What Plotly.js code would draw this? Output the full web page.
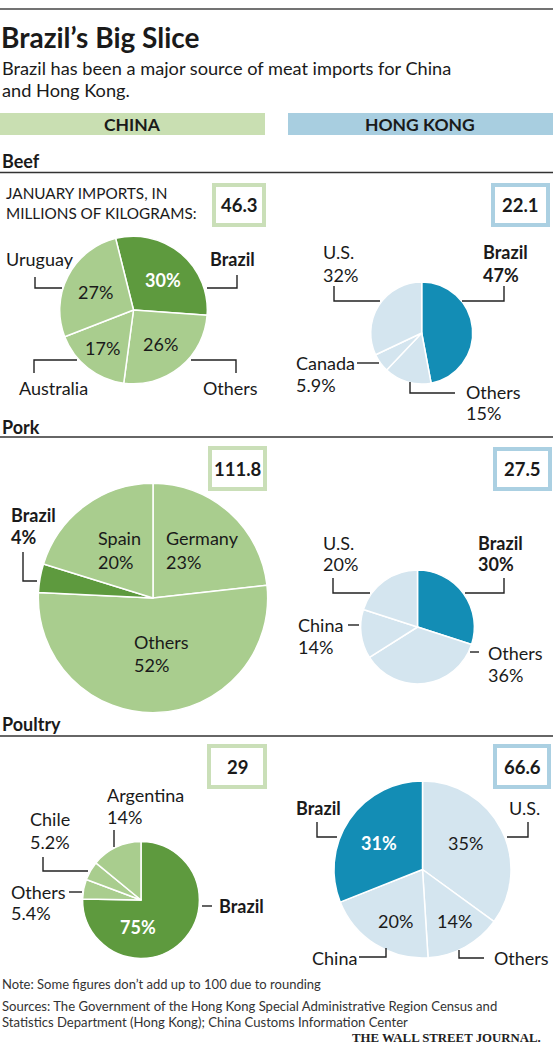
<!DOCTYPE html>
<html><head><meta charset="utf-8">
<script src="https://cdn.plot.ly/plotly-3.0.1.min.js"></script>
<style>html,body{margin:0;padding:0;background:#fff}#chart{width:553px;height:1048px}</style>
</head><body><div id="chart"></div>
<script>
// ---------- DATA ----------
const beefChinaLabels = ['Brazil','Others','Australia','Uruguay'];
const beefChinaValues = [30,26,17,27];
const beefHKLabels = ['Brazil','Others','Canada','U.S.'];
const beefHKValues = [47,15,5.9,32];
const porkChinaLabels = ['Germany','Others','Brazil','Spain'];
const porkChinaValues = [23,52,4,20];
const porkHKLabels = ['Brazil','Others','China','U.S.'];
const porkHKValues = [30,36,14,20];
const poultryChinaLabels = ['Brazil','Others','Chile','Argentina'];
const poultryChinaValues = [75,5.4,5.2,14];
const poultryHKLabels = ['U.S.','Others','China','Brazil'];
const poultryHKValues = [35,14,20,31];
const totals = [46.3, 22.1, 111.8, 27.5, 29, 66.6]; // beefCN, beefHK, porkCN, porkHK, poultryCN, poultryHK
const sectionNames = ['Beef','Pork','Poultry'];
const regionNames = ['CHINA','HONG KONG'];

// ---------- STYLE ----------
const W = 553, H = 1048;
const FONT = 'Lato, "Open Sans", sans-serif';
const TXT = '#1a1a1a';
const GREEN_LIGHT = '#a9cd8e', GREEN_DARK = '#5e9a3e';
const BLUE_LIGHT = '#d4e5ef', BLUE_DARK = '#138db5';
const GREEN_BAR = '#c9dfb2', BLUE_BAR = '#a8cee0';
const GREEN_BOX = '#cadfb8', BLUE_BOX = '#abd0e2';
const LS = 18; // label font size
const R0 = 73.8; // radius for the beef-China pie; others scale by sqrt(total)

const px = x => x / W;
const py = y => 1 - y / H;

const annotations = [];
const shapes = [];
function txt(text, x, y, o = {}) {
  annotations.push({
    text, x: px(x), y: py(y), xref: 'paper', yref: 'paper', showarrow: false,
    xanchor: o.anchor || 'left', yanchor: 'middle',
    font: {family: o.family || FONT, size: o.size || LS, color: o.color || TXT}
  });
}
function path(d, o = {}) {
  const s = d.map((p, i) => (i ? 'L' : 'M') + px(p[0]).toFixed(5) + ',' + py(p[1]).toFixed(5)).join(' ');
  shapes.push({type: 'path', xref: 'paper', yref: 'paper', path: s,
    line: {color: o.color || '#222', width: o.width || 1.4}});
}
function rect(x0, y0, x1, y1, o) {
  shapes.push({type: 'rect', xref: 'paper', yref: 'paper', x0: px(x0), x1: px(x1), y0: py(y1), y1: py(y0),
    fillcolor: o.fill || 'rgba(0,0,0,0)', line: {color: o.line || 'rgba(0,0,0,0)', width: o.lw || 0}});
}
const pct = v => v + '%';

// ---------- PIES ----------
const pies = [
  {labels: beefChinaLabels, values: beefChinaValues, total: totals[0], cx: 133.5, cy: 310, rot: -14, china: true},
  {labels: beefHKLabels, values: beefHKValues, total: totals[1], cx: 421.7, cy: 333, rot: 0, china: false},
  {labels: porkChinaLabels, values: porkChinaValues, total: totals[2], cx: 153, cy: 598, rot: 0, china: true},
  {labels: porkHKLabels, values: porkHKValues, total: totals[3], cx: 417.5, cy: 627, rot: 0, china: false},
  {labels: poultryChinaLabels, values: poultryChinaValues, total: totals[4], cx: 141, cy: 900, rot: 0, china: true},
  {labels: poultryHKLabels, values: poultryHKValues, total: totals[5], cx: 422.5, cy: 869.5, rot: 0, china: false}
];
const traces = pies.map(p => {
  const r = R0 * Math.sqrt(p.total / totals[0]);
  const colors = p.labels.map(l => l === 'Brazil'
    ? (p.china ? GREEN_DARK : BLUE_DARK) : (p.china ? GREEN_LIGHT : BLUE_LIGHT));
  return {
    type: 'pie', labels: p.labels, values: p.values, sort: false, direction: 'clockwise',
    rotation: p.rot, textinfo: 'none', hoverinfo: 'skip', showlegend: false,
    marker: {colors, line: {color: '#ffffff', width: 1.5}},
    domain: {x: [px(p.cx - r), px(p.cx + r)], y: [py(p.cy + r), py(p.cy - r)]}
  };
});

// ---------- HEADER ----------
path([[0, 9], [W, 9]], {color: '#444', width: 1.5});
txt('<b>Brazil’s Big Slice</b>', -1, 37, {size: 28});
txt('Brazil has been a major source of meat imports for China', 0, 68, {size: 18.2});
txt('and Hong Kong.', 0, 90, {size: 18.2});
rect(0, 113, 265, 135, {fill: GREEN_BAR});
rect(288, 113, W, 135, {fill: BLUE_BAR});
txt('<b>' + regionNames[0] + '</b>', 132, 124, {anchor: 'center', size: 17.5});
txt('<b>' + regionNames[1] + '</b>', 420, 124, {anchor: 'center', size: 17.5});

// section headers + rules
const secY = [[161, 172.5], [427, 437], [724, 736]];
sectionNames.forEach((s, i) => {
  txt('<b>' + s + '</b>', 0, secY[i][0], {size: 18});
  path([[0, secY[i][1]], [W, secY[i][1]]], {color: '#333', width: 1.5});
});

// total boxes
const boxes = [[212,183,266,227],[491,183,550,227],[208,446,267,491],[493,447,552,491],[207,744,267,789],[493,744,551,789]];
boxes.forEach((b, i) => {
  rect(b[0] + 2, b[1] + 2, b[2] - 2, b[3] - 2, {line: pies[i].china ? GREEN_BOX : BLUE_BOX, lw: 4});
  txt('<b>' + totals[i] + '</b>', (b[0] + b[2]) / 2, (b[1] + b[3]) / 2, {anchor: 'center', size: 18.5});
});
txt('JANUARY IMPORTS, IN', 4, 193, {size: 15.3});
txt('MILLIONS OF KILOGRAMS:', 4, 213, {size: 15.3});

// ---------- LABELS ----------
const WHITE = '#ffffff';
const B = s => '<b>' + s + '</b>';
// Beef China
txt(beefChinaLabels[3], 4, 259);
txt(B(beefChinaLabels[0]), 208, 259);
txt(B(pct(beefChinaValues[0])), 163, 280, {anchor: 'center', color: WHITE});
txt(pct(beefChinaValues[3]), 95, 292, {anchor: 'center'});
txt(pct(beefChinaValues[2]), 102, 348, {anchor: 'center'});
txt(pct(beefChinaValues[1]), 160, 344, {anchor: 'center'});
txt(beefChinaLabels[2], 17, 388);
txt(beefChinaLabels[1], 201, 388);
path([[35,277],[35,288],[62,288]]);
path([[237,275],[237,288],[207,288]]);
path([[77,360],[34,360],[34,373]]);
path([[191,360],[236,360],[236,373]]);
// Beef HK
txt(beefHKLabels[3], 321, 252); txt(pct(beefHKValues[3]), 321, 275);
txt(B(beefHKLabels[0]), 481, 252); txt(B(pct(beefHKValues[0])), 481, 275);
txt(beefHKLabels[2], 294, 363); txt(pct(beefHKValues[2]), 294, 385);
txt(beefHKLabels[1], 464, 392); txt(pct(beefHKValues[1]), 464, 413);
path([[334,286],[334,301],[380,301]]);
path([[504,286],[504,301],[462,301]]);
path([[357,363],[379,363]]);
path([[410,382],[410,393],[455,393]]);
// Pork China
txt(B(porkChinaLabels[2]), 9, 515); txt(B(pct(porkChinaValues[2])), 9, 537);
txt(porkChinaLabels[3], 96, 538); txt(pct(porkChinaValues[3]), 96, 562);
txt(porkChinaLabels[0], 164, 538); txt(pct(porkChinaValues[0]), 164, 562);
txt(porkChinaLabels[1], 132, 642); txt(pct(porkChinaValues[1]), 132, 665);
path([[23,552],[23,581],[37,581]]);
// Pork HK
txt(porkHKLabels[3], 321, 543); txt(pct(porkHKValues[3]), 321, 564);
txt(B(porkHKLabels[0]), 476, 543); txt(B(pct(porkHKValues[0])), 476, 564);
txt(porkHKLabels[2], 296, 625); txt(pct(porkHKValues[2]), 296, 647);
txt(porkHKLabels[1], 486, 653); txt(pct(porkHKValues[1]), 486, 675);
path([[333,578],[333,593],[370,593]]);
path([[504,578],[504,593],[465,593]]);
path([[348,625],[359,625]]);
path([[470,652],[479,652]]);
// Poultry China
txt(poultryChinaLabels[3], 105, 795); txt(pct(poultryChinaValues[3]), 105, 817);
txt(poultryChinaLabels[2], 28, 819); txt(pct(poultryChinaValues[2]), 28, 842);
txt(poultryChinaLabels[1], 9, 892); txt(pct(poultryChinaValues[1]), 9, 913);
txt(B(poultryChinaLabels[0]), 217, 906);
txt(B(pct(poultryChinaValues[0])), 138, 927, {anchor: 'center', color: WHITE});
path([[114,830],[114,847]]);
path([[43,857],[43,871],[88,871]]);
path([[69,892],[82,892]]);
path([[202,906],[212,906]]);
// Poultry HK
txt(B(poultryHKLabels[3]), 294, 808);
txt(poultryHKLabels[0], 542, 808, {anchor: 'right'});
txt(B(pct(poultryHKValues[3])), 379, 843, {anchor: 'center', color: WHITE});
txt(pct(poultryHKValues[0]), 465, 843, {anchor: 'center'});
txt(pct(poultryHKValues[2]), 395, 921, {anchor: 'center'});
txt(pct(poultryHKValues[1]), 454, 921, {anchor: 'center'});
txt(poultryHKLabels[2], 310, 958);
txt(poultryHKLabels[1], 492, 958);
path([[317,822],[317,837],[337,837]]);
path([[528,822],[528,837],[507,837]]);
path([[359,957],[386,957],[386,948]]);
path([[459,950],[459,958],[484,958]]);

// ---------- FOOTER ----------
txt('Note: Some figures don’t add up to 100 due to rounding', 0, 984, {size: 13, color: '#333'});
txt('Sources: The Government of the Hong Kong Special Administrative Region Census and', 0, 1006, {size: 13.1, color: '#333'});
txt('Statistics Department (Hong Kong); China Customs Information Center', 0, 1022, {size: 13.1, color: '#333'});
txt('<b>THE WALL STREET JOURNAL.</b>', 543, 1038, {anchor: 'right', size: 12.8, family: '"Liberation Serif", "DejaVu Serif", serif', color: '#222'});

Plotly.newPlot('chart', traces, {
  width: W, height: H, margin: {l: 0, r: 0, t: 0, b: 0},
  paper_bgcolor: '#fff', plot_bgcolor: '#fff', font: {family: FONT, color: TXT},
  annotations, shapes
}, {staticPlot: true, displayModeBar: false});
</script></body></html>
